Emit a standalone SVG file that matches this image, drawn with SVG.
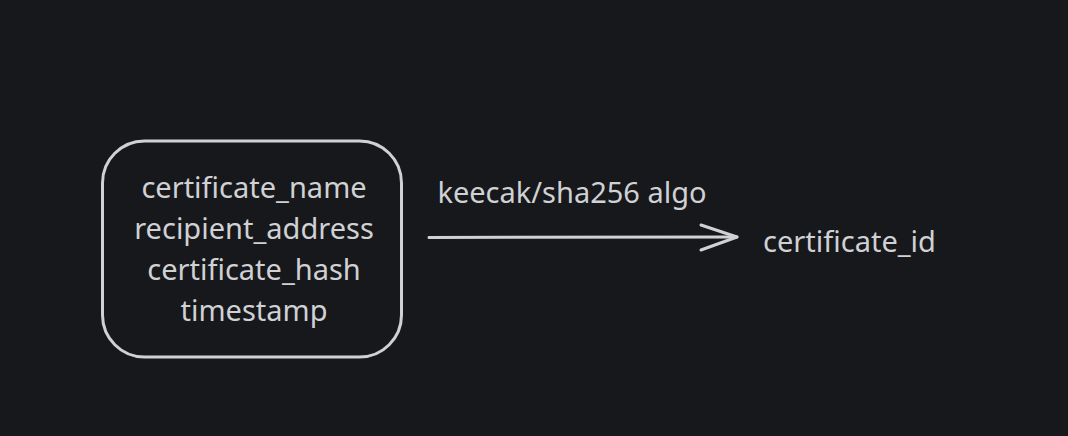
<svg xmlns="http://www.w3.org/2000/svg" width="1068" height="436" viewBox="0 0 1068 436">
<style>
.t{font-family:"Noto Sans","Open Sans",sans-serif;font-size:29px;fill:#d0d1d4;text-anchor:middle}
.s{fill:none;stroke:#d0d1d4;stroke-width:3;stroke-linecap:round;stroke-linejoin:round}
</style>
<rect width="1068" height="436" fill="#17181b"/>
<g id="input">
<rect class="s" x="102.5" y="141" width="299" height="216" rx="42" ry="42"/>
<text class="t" x="254" y="198">certificate_name</text>
<text class="t" x="254" y="239">recipient_address</text>
<text class="t" x="254" y="280">certificate_hash</text>
<text class="t" x="254" y="321">timestamp</text>
</g>
<g id="output">
<text class="t" x="849.5" y="252">certificate_id</text>
</g>
<g id="connectors">
<path class="s" d="M429 237.5 L737 237"/>
<path class="s" d="M701 225 L737 237 L701 250"/>
<text class="t" x="572" y="203">keecak/sha256 algo</text>
</g>
</svg>
